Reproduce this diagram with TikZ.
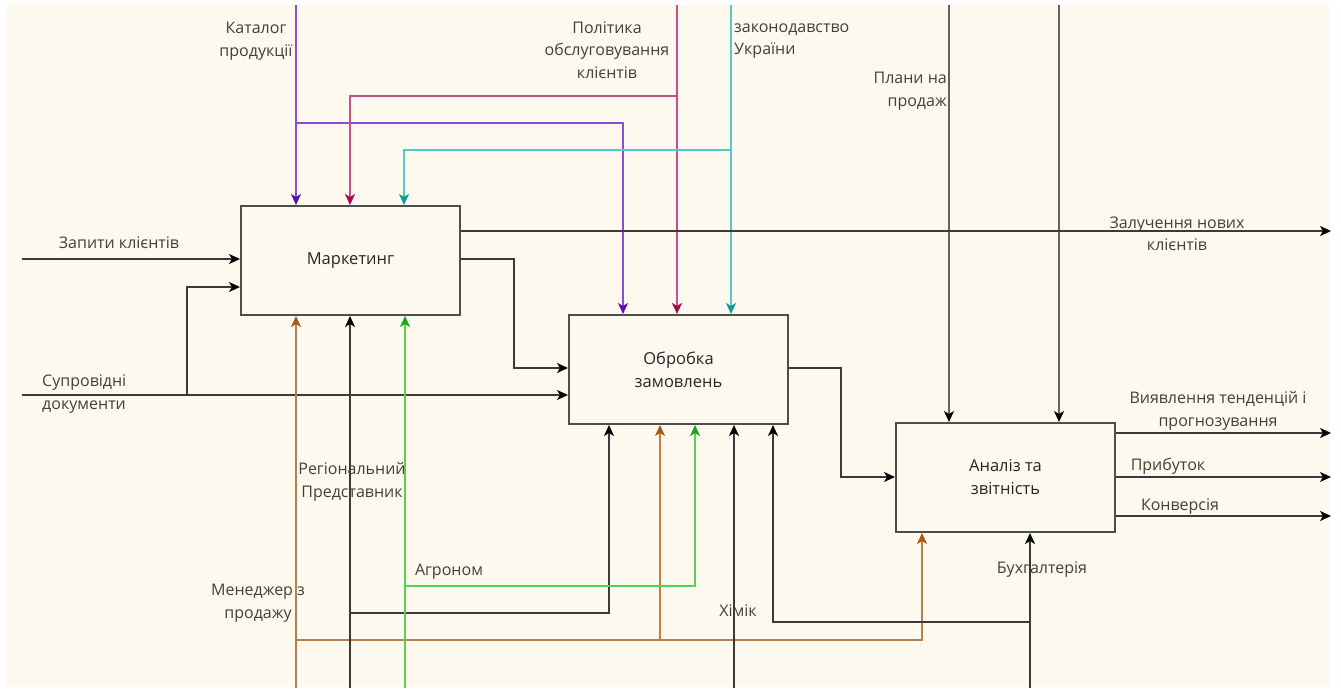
\documentclass[tikz,border=0pt]{standalone}
\usepackage{fontspec}
\setmainfont{Open Sans}
\usetikzlibrary{arrows.meta}
\definecolor{cream}{HTML}{FEF9EE}
\definecolor{lbl}{HTML}{4A3E33}
\definecolor{ln}{HTML}{3A3A3A}
\definecolor{purp}{HTML}{8A4FD0}
\definecolor{purpT}{HTML}{5A0FA8}
\definecolor{mag}{HTML}{C8508A}
\definecolor{magT}{HTML}{A8084F}
\definecolor{teal}{HTML}{58C8C4}
\definecolor{tealT}{HTML}{109A98}
\definecolor{brn}{HTML}{B8804C}
\definecolor{brnT}{HTML}{A85A14}
\definecolor{grn}{HTML}{58D058}
\definecolor{grnT}{HTML}{18A818}
\tikzset{
  x=1pt, y=-1pt,
  box/.style={draw=ln!90, line width=2pt, fill=cream, minimum width=219pt, minimum height=109pt, anchor=north west, inner sep=0pt, align=center, font=\fontsize{16.5}{23}\selectfont, text=black!85},
  conn/.style={line width=1.6pt, draw=ln},
  tip/.style={-{Stealth[length=11pt,width=10pt,inset=3pt,#1]}},
  lab/.style={font=\fontsize{16}{22.5}\selectfont, text=lbl, inner sep=0pt, align=center},
}
\begin{document}
\begin{tikzpicture}
\useasboundingbox (0,0) rectangle (1341,688);
\fill[white] (0,0) rectangle (1341,688);
\fill[cream] (6,5) rectangle (1330,687);
% boxes
\node[box] (m) at (240,205) {Маркетинг};
\node[box] (o) at (568,314) {Обробка\\замовлень};
\node[box] (a) at (895,422) {Аналіз та\\звітність};
% coordinates
\coordinate (pT) at (296,5);
\coordinate (pB) at (296,123);
\coordinate (gT) at (677,5);
\coordinate (gB) at (677,96);
\coordinate (tT) at (731,5);
\coordinate (tB) at (731,150);
\coordinate (s1) at (949,5);
\coordinate (s2) at (1059,5);
\coordinate (in1) at (22,259);
\coordinate (in2) at (22,395);
\coordinate (in2b) at (187,395);
\coordinate (outA) at (1331,231);
\coordinate (out1) at (1331,433);
\coordinate (out2) at (1331,477);
\coordinate (out3) at (1331,516);
\coordinate (bB) at (296,688);
\coordinate (bBr) at (296,640);
\coordinate (bBr2) at (660,640);
\coordinate (rB) at (350,688);
\coordinate (rBr) at (350,613);
\coordinate (aB) at (405,688);
\coordinate (aBr) at (405,586);
\coordinate (xB) at (734,688);
\coordinate (kB) at (1030,688);
\coordinate (kBr) at (1030,622);
% controls from top
\draw[conn, draw=purp, tip=purpT] (pT) -- (m.north west -| pT);
\draw[conn, draw=purp, tip=purpT] (pB) -| (o.north west -| 623,0);
\draw[conn, draw=mag, tip=magT] (gT) -- (o.north west -| gT);
\draw[conn, draw=mag, tip=magT] (gB) -| (m.north west -| 350,0);
\draw[conn, draw=teal, tip=tealT] (tT) -- (o.north west -| tT);
\draw[conn, draw=teal, tip=tealT] (tB) -| (m.north west -| 404,0);
\draw[conn, draw=ln!80, tip=black] (s1) -- (a.north west -| s1);
\draw[conn, draw=ln!80, tip=black] (s2) -- (a.north west -| s2);
% inputs
\draw[conn, tip=black] (in1) -- (m.west |- in1);
\draw[conn, tip=black] (in2) -- (o.west |- in2);
\draw[conn, tip=black] (in2b) |- (m.west |- 0,287);
% outputs
\draw[conn, tip=black] (m.east |- outA) -- (outA);
\draw[conn, tip=black] (m.east |- 0,259) -| (514,368) -- (o.west |- 0,368);
\draw[conn, tip=black] (o.east |- 0,368) -| (841,477) -- (a.west |- 0,477);
\draw[conn, tip=black] (a.east |- out1) -- (out1);
\draw[conn, tip=black] (a.east |- out2) -- (out2);
\draw[conn, tip=black] (a.east |- out3) -- (out3);
% mechanisms
\draw[conn, draw=brn, tip=brnT] (bB) -- (m.south west -| bB);
\draw[conn, draw=brn, tip=brnT] (bBr) -| (o.south west -| bBr2);
\draw[conn, draw=brn, tip=brnT] (bBr2) -| (a.south west -| 922,0);
\draw[conn, tip=black] (rB) -- (m.south west -| rB);
\draw[conn, tip=black] (rBr) -| (o.south west -| 609,0);
\draw[conn, draw=grn, tip=grnT] (aB) -- (m.south west -| aB);
\draw[conn, draw=grn, tip=grnT] (aBr) -| (o.south west -| 695,0);
\draw[conn, tip=black] (xB) -- (o.south west -| xB);
\draw[conn, tip=black] (kB) -- (a.south west -| kB);
\draw[conn, tip=black] (kBr) -| (o.south west -| 773,0);
% labels
\node[lab] (l1) at (256,41) {Каталог\\продукції};
\node[lab] (l2) at (607,50) {Політика\\обслуговування\\клієнтів};
\node[lab, anchor=west, align=left] (l3) at (734,41) {законодавство\\України};
\node[lab, align=right, anchor=east] (l4) at (947,91) {Плани на\\продаж};
\node[lab] (l5) at (119,243) {Запити клієнтів};
\node[lab, align=left, anchor=west] (l6) at (42,394) {Супровідні\\документи};
\node[lab] (l7) at (1177,234) {Залучення нових\\клієнтів};
\node[lab] (l8) at (1218,411) {Виявлення тенденцій і\\прогнозування};
\node[lab] (l9) at (1168,466) {Прибуток};
\node[lab] (l10) at (1180,507) {Конверсія};
\node[lab] (l11) at (352,482) {Регіональний\\Представник};
\node[lab] (l12) at (449,572) {Агроном};
\node[lab] (l13) at (258,603) {Менеджер з\\продажу};
\node[lab] (l14) at (738,611) {Хімік};
\node[lab] (l15) at (1042,570) {Бухгалтерія};
\end{tikzpicture}
\end{document}
